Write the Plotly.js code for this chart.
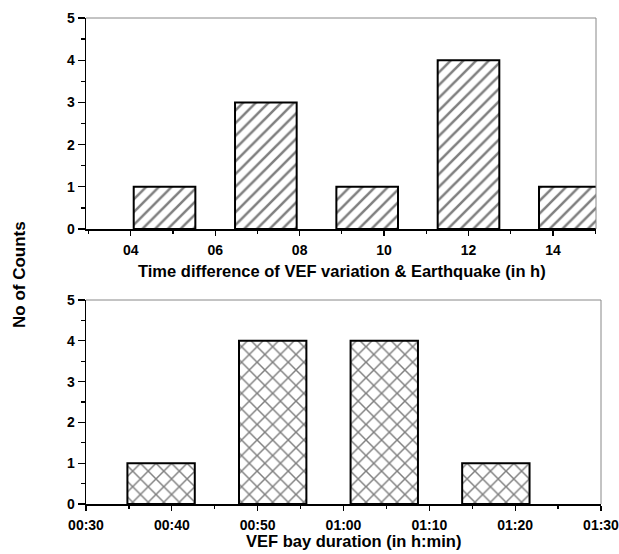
<!DOCTYPE html>
<html>
<head>
<meta charset="utf-8">
<script src="https://cdn.plot.ly/plotly-3.0.1.min.js"></script>
<style>html,body{margin:0;padding:0;background:#fff;}#chart{width:619px;height:554px;}</style>
</head>
<body>
<div id="chart"></div>
<script>
// Top panel: time difference between VEF variation and earthquake (hours)
const topCenters = [4.8, 7.2, 9.6, 12.0, 14.4];
const topCounts = [1, 3, 1, 4, 1];
const topTickVals = [4, 6, 8, 10, 12, 14];
const topTickText = ['04', '06', '08', '10', '12', '14'];

// Bottom panel: VEF bay duration (minutes)
const botCenters = [38.75, 51.75, 64.75, 77.75];
const botCounts = [1, 4, 4, 1];
const botTickVals = [30, 40, 50, 60, 70, 80, 90];
const botTickText = ['00:30', '00:40', '00:50', '01:00', '01:10', '01:20', '01:30'];

const yTickVals = [0, 1, 2, 3, 4, 5];

const FONT = 'Liberation Sans, Arial, Helvetica, sans-serif';
const W = 619, H = 554;
const px = v => v / W;
const py = v => 1 - v / H;

const traces = [
  {
    type: 'bar', x: topCenters, y: topCounts, width: 1.46,
    xaxis: 'x', yaxis: 'y',
    marker: {color: '#fff', line: {color: '#000', width: 2},
      pattern: {shape: '/', size: 9, solidity: 0.28, fgcolor: '#000', bgcolor: '#fff', fillmode: 'overlay'}},
    hoverinfo: 'skip', showlegend: false
  },
  {
    type: 'bar', x: botCenters, y: botCounts, width: 7.85,
    xaxis: 'x2', yaxis: 'y2',
    marker: {color: '#fff', line: {color: '#000', width: 2},
      pattern: {shape: 'x', size: 11, solidity: 0.25, fgcolor: '#000', bgcolor: '#fff', fillmode: 'overlay'}},
    hoverinfo: 'skip', showlegend: false
  }
];

const tickFont = {family: FONT, size: 14, color: '#000', weight: 'bold'};
const titleFont = {family: FONT, size: 16.5, color: '#000', weight: 'bold'};

function xAxis(domain, range, vals, text, yanchor, dtickMinor, tick0Minor) {
  return {
    domain: domain, range: range, anchor: yanchor, autorange: false,
    tickmode: 'array', tickvals: vals, ticktext: text,
    ticks: 'outside', ticklen: 5, tickwidth: 1.3, tickcolor: '#000',
    minor: {ticks: 'outside', ticklen: 3, tickwidth: 1.3, tickcolor: '#000', dtick: dtickMinor, tick0: tick0Minor, showgrid: false},
    showline: true, linecolor: '#000', linewidth: 1.5,
    showgrid: false, zeroline: false, tickfont: tickFont, ticklabelstandoff: 3,
    ticklabeloverflow: 'allow',
    automargin: false, fixedrange: true
  };
}
function yAxis(domain, xanchor) {
  return {
    domain: domain, range: [0, 5], anchor: xanchor, autorange: false,
    tickmode: 'array', tickvals: yTickVals,
    ticks: 'outside', ticklen: 7, tickwidth: 1.3, tickcolor: '#000',
    minor: {ticks: 'outside', ticklen: 4, tickwidth: 1.3, tickcolor: '#000', dtick: 0.5, tick0: 0.5, showgrid: false},
    showline: true, linecolor: '#000', linewidth: 1.5,
    showgrid: false, zeroline: false, tickfont: tickFont,
    ticklabeloverflow: 'allow',
    automargin: false, fixedrange: true
  };
}

const layout = {
  width: W, height: H,
  margin: {l: 0, r: 0, t: 0, b: 0},
  paper_bgcolor: '#fff', plot_bgcolor: '#fff',
  showlegend: false,
  xaxis: xAxis([px(86), px(596)], [2.94, 15.02], topTickVals, topTickText, 'y', 1, 5),
  yaxis: yAxis([py(229), py(18)], 'x'),
  xaxis2: xAxis([px(86), px(601)], [30, 90], botTickVals, botTickText, 'y2', 10, 35),
  yaxis2: yAxis([py(504), py(300)], 'x2'),
  shapes: [
    {type: 'line', xref: 'x domain', yref: 'y domain', x0: 0, x1: 1, y0: 1, y1: 1, line: {color: '#888', width: 1}},
    {type: 'line', xref: 'x domain', yref: 'y domain', x0: 1, x1: 1, y0: 0, y1: 1, line: {color: '#888', width: 1}},
    {type: 'line', xref: 'x2 domain', yref: 'y2 domain', x0: 0, x1: 1, y0: 1, y1: 1, line: {color: '#888', width: 1}},
    {type: 'line', xref: 'x2 domain', yref: 'y2 domain', x0: 1, x1: 1, y0: 0, y1: 1, line: {color: '#888', width: 1}}
  ],
  annotations: [
    {text: 'Time difference of VEF variation &amp; Earthquake (in h)', xref: 'paper', yref: 'paper',
     x: px(341.5), y: py(271), xanchor: 'center', yanchor: 'middle', showarrow: false, font: titleFont},
    {text: 'VEF bay duration (in h:min)', xref: 'paper', yref: 'paper',
     x: px(353), y: py(541), xanchor: 'center', yanchor: 'middle', showarrow: false, font: titleFont},
    {text: 'No of Counts', xref: 'paper', yref: 'paper', textangle: -90,
     x: px(19), y: py(275), xanchor: 'center', yanchor: 'middle', showarrow: false,
     font: {family: FONT, size: 17, color: '#000', weight: 'bold'}}
  ]
};

Plotly.newPlot('chart', traces, layout, {staticPlot: true, displayModeBar: false});
</script>
</body>
</html>
